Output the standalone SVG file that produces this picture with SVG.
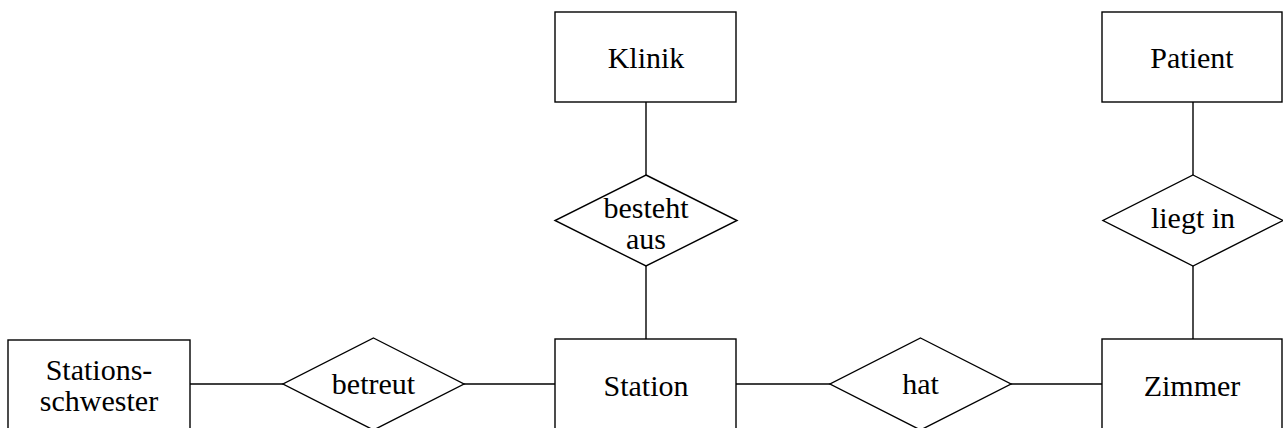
<svg xmlns="http://www.w3.org/2000/svg" width="1283" height="428" viewBox="0 0 1283 428">
<style>
.s{fill:#fff;stroke:#000;stroke-width:1.4}
.l{stroke:#000;stroke-width:1.4;fill:none}
text{font-family:"Liberation Serif","Times New Roman",serif;font-size:30px;fill:#000;text-anchor:middle}
</style>
<rect width="1283" height="428" fill="#fff"/>
<g id="connectors">
<line class="l" x1="646" y1="102" x2="646" y2="175"/>
<line class="l" x1="646" y1="266" x2="646" y2="339"/>
<line class="l" x1="1193" y1="102" x2="1193" y2="175"/>
<line class="l" x1="1193" y1="266" x2="1193" y2="339"/>
<line class="l" x1="190" y1="384" x2="283" y2="384"/>
<line class="l" x1="464" y1="384" x2="555" y2="384"/>
<line class="l" x1="736" y1="384" x2="830" y2="384"/>
<line class="l" x1="1011" y1="384" x2="1102" y2="384"/>
</g>
<g id="klinik"><rect class="s" x="555" y="12" width="181" height="90"/><text x="646" y="68">Klinik</text></g>
<g id="patient"><rect class="s" x="1102" y="12" width="180" height="90"/><text x="1192" y="68">Patient</text></g>
<g id="besteht-aus"><polygon class="s" points="646,175 737,220.5 646,266 555,220.5"/><text x="646" y="218">besteht</text><text x="646" y="249">aus</text></g>
<g id="liegt-in"><polygon class="s" points="1193,175 1283,220.5 1193,266 1103,220.5"/><text x="1193" y="228">liegt in</text></g>
<g id="stationsschwester"><rect class="s" x="8" y="340" width="182" height="90"/><text x="99" y="380">Stations-</text><text x="99" y="411">schwester</text></g>
<g id="betreut"><polygon class="s" points="373.5,338 464,384 373.5,430 283,384"/><text x="373.5" y="394">betreut</text></g>
<g id="station"><rect class="s" x="555" y="339" width="181" height="91"/><text x="646" y="396">Station</text></g>
<g id="hat"><polygon class="s" points="920.5,338 1011,384 920.5,430 830,384"/><text x="920.5" y="394">hat</text></g>
<g id="zimmer"><rect class="s" x="1102" y="339" width="180" height="91"/><text x="1192" y="396">Zimmer</text></g>
</svg>
